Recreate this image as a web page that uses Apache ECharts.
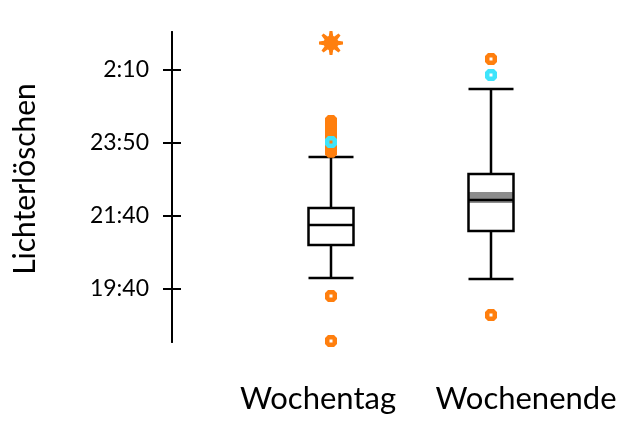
<!DOCTYPE html>
<html>
<head>
<meta charset="utf-8">
<script src="https://cdn.jsdelivr.net/npm/echarts@6/dist/echarts.min.js"></script>
<style>
  html, body { margin: 0; padding: 0; background: #fff; }
  #chart { width: 623px; height: 421px; }
</style>
</head>
<body>
<div id="chart"></div>
<script>
// Lights-out time, weekday vs weekend. Values are in axis units where
// each labelled tick is one unit apart.
const categories = ['Wochentag', 'Wochenende'];
const tickValues = [0, 1, 2, 3];
const tickLabels = ['19:40', '21:40', '23:50', '2:10'];

// [lower whisker, Q1, median, Q3, upper whisker]
const boxWochentag = [0.151, 0.603, 0.877, 1.110, 1.808];
const boxWochenende = [0.137, 0.795, 1.219, 1.575, 2.740];

// shaded band around the weekend centre: [category index, top, bottom]
const bandWochenende = [1, 1.329, 1.178];

// outliers
const outWochentagHigh = [2.30, 2.27, 2.24, 2.21, 2.18, 2.15, 2.12, 2.09, 2.06, 2.03, 2.00, 1.97, 1.94, 1.91, 1.88];
const outWochentagLow = [-0.096, -0.712];
const outWochenende = [3.151, -0.356];
const cyanPoints = [[0, 2.014], [1, 2.932]];
const starPoints = [[0, 3.37]];

const yMin = -0.726, yMax = 3.521;
const orange = '#ff7f0e';
const cyan = '#3fe4fb';
const font = 'Lato, "Open Sans", sans-serif';

// rounded square marker with a small open centre
const dotSymbol = 'path://M3,0H9L12,3V9L9,12H3L0,9V3Z M4.5,4.5V7.5H7.5V4.5Z';

// eight-spiked sun marker
function sunPath() {
  const pts = [];
  const rIn = 7, rOut = 11.5;
  for (let k = 0; k < 8; k++) {
    const a = k * Math.PI / 4;
    const d1 = 0.30, d2 = 0.12;
    pts.push([rIn * Math.cos(a - d1), rIn * Math.sin(a - d1)]);
    pts.push([rOut * Math.cos(a - d2), rOut * Math.sin(a - d2)]);
    pts.push([rOut * Math.cos(a + d2), rOut * Math.sin(a + d2)]);
    pts.push([rIn * Math.cos(a + d1), rIn * Math.sin(a + d1)]);
  }
  return 'path://M' + pts.map(p => (p[0] + 12).toFixed(2) + ',' + (p[1] + 12).toFixed(2)).join('L') + 'Z';
}

const orangeData = []
  .concat(outWochentagLow.map(v => [0, v]))
  .concat(outWochentagHigh.map(v => [0, v]))
  .concat(outWochenende.map(v => [1, v]));

const labelCenters = [318, 526];

const chart = echarts.init(document.getElementById('chart'), null, { renderer: 'canvas' });

const yAxisBase = {
  type: 'value',
  min: yMin,
  max: yMax,
  position: 'left',
  offset: 79,
  splitLine: { show: false },
  axisLine: { show: true, lineStyle: { color: '#000', width: 2 } },
};

chart.setOption({
  animation: false,
  backgroundColor: '#fff',
  grid: { left: 251, right: 52, top: 32, bottom: 79 },
  xAxis: {
    type: 'category',
    data: categories,
    boundaryGap: true,
    axisLine: { show: false },
    axisTick: { show: false },
    axisLabel: { show: false },
    splitLine: { show: false }
  },
  yAxis: [
    Object.assign({}, yAxisBase, {
      axisTick: { show: true, length: 9, customValues: tickValues, lineStyle: { color: '#000', width: 2 } },
      axisLabel: {
        show: true,
        customValues: tickValues,
        margin: 23,
        color: '#000',
        fontFamily: font,
        fontSize: 23,
        formatter: v => tickLabels[tickValues.indexOf(Math.round(v))]
      }
    }),
    Object.assign({}, yAxisBase, {
      axisTick: { show: true, inside: true, length: 9, customValues: tickValues, lineStyle: { color: '#000', width: 2 } },
      axisLabel: { show: false }
    })
  ],
  series: [
    {
      type: 'custom',
      z: 1,
      data: [bandWochenende],
      renderItem: function (params, api) {
        const top = api.coord([api.value(0), api.value(1)]);
        const bot = api.coord([api.value(0), api.value(2)]);
        const w = 45;
        return {
          type: 'rect',
          shape: { x: top[0] - w / 2, y: top[1], width: w, height: bot[1] - top[1] },
          style: { fill: '#8c8c8c' }
        };
      }
    },
    {
      type: 'boxplot',
      z: 2,
      boxWidth: [45, 45],
      data: [boxWochentag, boxWochenende],
      itemStyle: { color: 'transparent', borderColor: '#000', borderWidth: 2.5 },
      emphasis: { disabled: true }
    },
    {
      type: 'scatter',
      z: 3,
      symbol: dotSymbol,
      symbolSize: 12,
      data: orangeData,
      itemStyle: { color: orange, opacity: 1 }
    },
    {
      type: 'scatter',
      z: 4,
      symbol: dotSymbol,
      symbolSize: 12,
      data: cyanPoints,
      itemStyle: { color: cyan, opacity: 1 }
    },
    {
      type: 'scatter',
      z: 5,
      symbol: sunPath(),
      symbolSize: 24,
      data: starPoints,
      itemStyle: { color: orange, opacity: 1 }
    }
  ],
  graphic: [
    {
      type: 'text',
      x: 25,
      y: 179,
      rotation: Math.PI / 2,
      style: {
        text: 'Lichterlöschen',
        fill: '#000',
        font: '30px ' + font,
        align: 'center',
        verticalAlign: 'middle'
      }
    }
  ].concat(categories.map((c, i) => ({
    type: 'text',
    x: labelCenters[i],
    y: 399,
    style: {
      text: c,
      fill: '#000',
      font: '31px ' + font,
      align: 'center',
      verticalAlign: 'middle'
    }
  })))
});
</script>
</body>
</html>
